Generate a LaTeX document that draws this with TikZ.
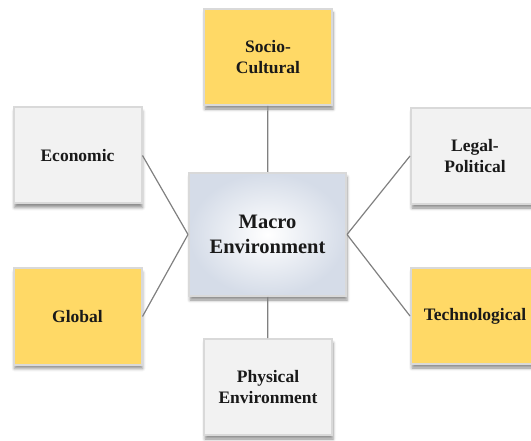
\documentclass[tikz,border=0pt]{standalone}
\usepackage{fontspec}
\setmainfont{Liberation Serif}
\usepackage{xcolor}
\definecolor{Col1}{RGB}{255,217,102}
\definecolor{Col2}{RGB}{242,242,242}
\definecolor{Col3}{RGB}{213,220,232}
\definecolor{Col4}{RGB}{128,128,128}
\usepackage{tikz}
\usetikzlibrary{shadows.blur}
\tikzstyle{Factor}=[rectangle,draw=gray!30,line width=2pt,inner sep=0pt,
minimum width=128,minimum height=96,align=center,text=black!90,
font=\fontsize{17.5}{21}\selectfont\bfseries,
blur shadow={shadow xshift=1pt,shadow yshift=-4pt,shadow blur radius=3pt,
shadow opacity=45}]
\tikzstyle{Yellow}=[Factor,fill=Col1]
\tikzstyle{Grey}=[Factor,fill=Col2]
\tikzstyle{Core}=[Factor,minimum width=157,minimum height=123,
inner color=white,outer color=Col3,
font=\fontsize{20.5}{25}\selectfont\bfseries]
\tikzstyle{Link}=[draw=Col4,line width=1.2pt]

\begin{document}
\begin{tikzpicture}[x=1pt,y=-1pt]
        \useasboundingbox(0,0)rectangle(531,441);
        \clip(0,0)rectangle(531,441);
        \node[Core](macro)at(267.5,234.5){Macro\\Environment};
        \node[Yellow](socio)at(268,57){Socio-\\Cultural};
        \node[Grey](econ)at(77.5,155.5){Economic};
        \node[Yellow](global)at(77.5,316.5){Global};
        \node[Grey](legal)at(475,156){Legal-\\Political};
        \node[Yellow](tech)at(475,316){Technological};
        \node[Grey](phys)at(268,387){Physical\\Environment};
        \draw[Link](socio)--(macro);
        \draw[Link](phys)--(macro);
        \draw[Link](econ.east)--(macro.west);
        \draw[Link](global.east)--(macro.west);
        \draw[Link](legal.west)--(macro.east);
        \draw[Link](tech.west)--(macro.east);
    \end{tikzpicture}
\end{document}
